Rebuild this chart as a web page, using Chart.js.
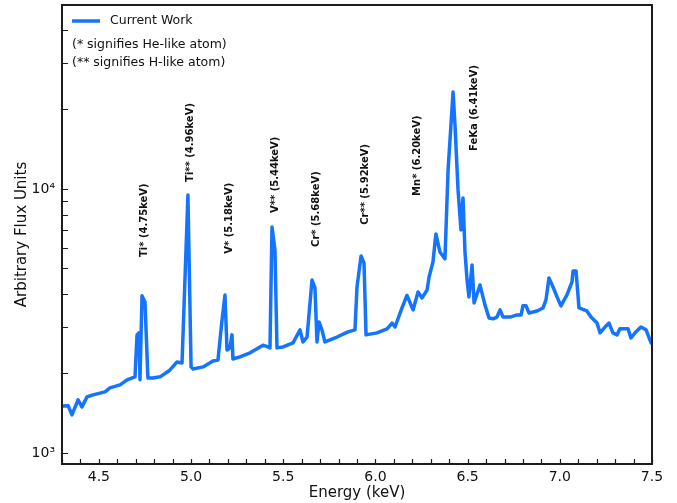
<!DOCTYPE html>
<html>
<head>
<meta charset="utf-8">
<script src="https://cdn.jsdelivr.net/npm/chart.js@4.4.0/dist/chart.umd.min.js"></script>
<style>
    html, body { margin: 0; padding: 0; background: #fff; }
</style>
</head>
<body>
<canvas id="fluxChart" width="677" height="503"></canvas>
<script>
// spectrum (keV, arbitrary flux)
const energy = [
    4.300, 4.333, 4.354, 4.387, 4.408, 4.436, 4.468, 4.533, 4.560, 4.615, 4.653, 4.696,
    4.707, 4.718, 4.723, 4.734, 4.750, 4.766, 4.794, 4.832, 4.886, 4.924, 4.951, 4.956,
    4.983, 5.000, 5.011, 5.065, 5.119, 5.146, 5.168, 5.184, 5.195, 5.211, 5.222, 5.227,
    5.265, 5.320, 5.374, 5.390, 5.417, 5.428, 5.439, 5.455, 5.466, 5.499, 5.553, 5.591,
    5.607, 5.629, 5.656, 5.672, 5.683, 5.694, 5.710, 5.726, 5.792, 5.851, 5.889, 5.900,
    5.922, 5.938, 5.949, 6.008, 6.063, 6.090, 6.106, 6.144, 6.171, 6.204, 6.231, 6.253,
    6.280, 6.291, 6.312, 6.328, 6.350, 6.377, 6.394, 6.421, 6.432, 6.448, 6.464, 6.475,
    6.486, 6.497, 6.507, 6.524, 6.535, 6.567, 6.594, 6.616, 6.638, 6.659, 6.676, 6.692,
    6.730, 6.768, 6.790, 6.800, 6.817, 6.833, 6.876, 6.909, 6.925, 6.941, 6.963, 6.985,
    7.006, 7.039, 7.066, 7.072, 7.088, 7.104, 7.147, 7.169, 7.202, 7.218, 7.245, 7.267,
    7.288, 7.310, 7.326, 7.370, 7.386, 7.408, 7.440, 7.468, 7.495
];
const flux = [
    1507, 1510, 1393, 1589, 1494, 1630, 1660, 1703, 1763, 1811, 1892, 1942,
    2800, 2850, 1892, 3937, 3733, 1924, 1924, 1942, 2062, 2212, 2192, 2192,
    9490, 2118, 2080, 2118, 2230, 2249, 3190, 3966, 2455, 2500, 2800, 2268,
    2310, 2394, 2521, 2560, 2521, 2500, 7180, 5875, 2500, 2521, 2612, 2925,
    2632, 2748, 4516, 4217, 2632, 3135, 2925, 2632, 2748, 2873, 2925, 4256,
    5574, 5243, 2800, 2850, 2951, 3105, 2999, 3541, 3950, 3481, 4072, 3866,
    4141, 4642, 5286, 6754, 5768, 5433, 11800, 23270, 17170, 9913, 6998, 9245,
    5728, 4516, 3900, 5155, 3700, 4326, 3638, 3246, 3222, 3271, 3481, 3271,
    3271, 3333, 3333, 3607, 3607, 3388, 3450, 3541, 3800, 4603, 4256, 3900,
    3607, 3966, 4448, 4889, 4889, 3541, 3450, 3271, 3105, 2850, 2999, 3105,
    2850, 2800, 2951, 2951, 2727, 2850, 2999, 2925, 2612
];

// line identifications, text anchored at (energy, flux) and read upward
const lineNames = ['Ti* (4.75keV)', 'Ti** (4.96keV)', 'V* (5.18keV)', 'V** (5.44keV)',
    'Cr* (5.68keV)', 'Cr** (5.92keV)', 'Mn* (6.20keV)', 'FeKa (6.41keV)'];
const lineEnergy = [4.745, 4.994, 5.206, 5.455, 5.678, 5.943, 6.225, 6.535];
const lineFlux = [5520, 10630, 5680, 8110, 6030, 7310, 9410, 13930];

const xMajorTicks = [4.5, 5.0, 5.5, 6.0, 6.5, 7.0, 7.5];
const yMajorTicks = [1000, 10000];
const yTickLabels = ['10\u00b3', '10\u2074'];
const notes = ['(* signifies He-like atom)', '(** signifies H-like atom)'];

const blue = '#1474ff';
const ink = '#1c1c1c';

const decorPlugin = {
    id: 'decor',
    afterDatasetsDraw(chart) {
        const ctx = chart.ctx;
        const xs = chart.scales.x, ys = chart.scales.y;
        ctx.save();
        ctx.fillStyle = '#111';
        ctx.font = 'bold 10px "DejaVu Sans"';
        ctx.textAlign = 'left';
        ctx.textBaseline = 'middle';
        lineNames.forEach((name, i) => {
            ctx.save();
            ctx.translate(xs.getPixelForValue(lineEnergy[i]), ys.getPixelForValue(lineFlux[i]));
            ctx.rotate(-Math.PI / 2);
            ctx.fillText(name, 0, 0);
            ctx.restore();
        });
        ctx.restore();
    },
    afterDraw(chart) {
        const ctx = chart.ctx;
        const a = chart.chartArea;
        const xs = chart.scales.x, ys = chart.scales.y;
        ctx.save();

        // inward ticks
        ctx.strokeStyle = ink;
        ctx.lineWidth = 1.2;
        ctx.beginPath();
        xs.ticks.forEach(t => {
            const px = Math.round(xs.getPixelForValue(t.value)) + 0.5;
            ctx.moveTo(px, a.bottom);
            ctx.lineTo(px, a.bottom - 5);
        });
        ys.ticks.forEach(t => {
            const py = Math.round(ys.getPixelForValue(t.value)) + 0.5;
            ctx.moveTo(a.left, py);
            ctx.lineTo(a.left + 6, py);
        });
        ctx.stroke();

        // frame
        ctx.lineWidth = 2;
        ctx.strokeRect(a.left, a.top, a.right - a.left, a.bottom - a.top);

        // legend
        const ds = chart.data.datasets[0];
        ctx.strokeStyle = ds.borderColor;
        ctx.lineWidth = 3.5;
        ctx.beginPath();
        ctx.moveTo(a.left + 10, a.top + 16);
        ctx.lineTo(a.left + 38, a.top + 16);
        ctx.stroke();
        ctx.fillStyle = '#111';
        ctx.font = '12.5px "DejaVu Sans"';
        ctx.textAlign = 'left';
        ctx.textBaseline = 'middle';
        ctx.fillText(ds.label, a.left + 48, a.top + 16);
        notes.forEach((n, i) => ctx.fillText(n, a.left + 10, a.top + 40 + i * 18));
        ctx.restore();
    }
};

const ctx = document.getElementById('fluxChart').getContext('2d');
const fluxChart = new Chart(ctx, {
    type: 'line',
    data: {
        datasets: [{
            label: 'Current Work',
            data: energy.map((e, i) => ({ x: e, y: flux[i] })),
            borderColor: blue,
            borderWidth: 3.5,
            borderJoinStyle: 'round',
            borderCapStyle: 'round',
            pointRadius: 0,
            tension: 0,
            fill: false
        }]
    },
    options: {
        responsive: false,
        animation: false,
        devicePixelRatio: 1,
        layout: { padding: { top: 5, right: 25, left: 0, bottom: 0 } },
        plugins: {
            legend: { display: false },
            tooltip: { enabled: false }
        },
        scales: {
            x: {
                type: 'linear',
                min: 4.3,
                max: 7.5,
                afterBuildTicks(scale) {
                    const ticks = [];
                    for (let k = 43; k <= 75; k++) ticks.push({ value: k / 10 });
                    scale.ticks = ticks;
                },
                afterFit(scale) {
                    scale.height = 39;
                    scale.paddingLeft = 0;
                    scale.paddingRight = 0;
                },
                grid: { display: false, drawTicks: false },
                border: { display: false },
                ticks: {
                    autoSkip: false,
                    maxRotation: 0,
                    padding: 5,
                    color: '#111',
                    font: { family: 'DejaVu Sans', size: 14 },
                    callback(value) {
                        const hit = xMajorTicks.find(m => Math.abs(m - value) < 1e-6);
                        return hit === undefined ? '' : hit.toFixed(1);
                    }
                },
                title: {
                    display: true,
                    text: 'Energy (keV)',
                    color: '#111',
                    font: { family: 'DejaVu Sans', size: 15 },
                    padding: { top: 0, bottom: 1 }
                }
            },
            y: {
                type: 'logarithmic',
                min: 908,
                max: 49750,
                afterBuildTicks(scale) {
                    const ticks = [];
                    for (let v = 1000; v <= 9000; v += 1000) ticks.push({ value: v });
                    for (let v = 10000; v <= 40000; v += 10000) ticks.push({ value: v });
                    scale.ticks = ticks;
                },
                afterFit(scale) {
                    scale.width = 62;
                    scale.paddingTop = 0;
                    scale.paddingBottom = 0;
                },
                grid: { display: false, drawTicks: false },
                border: { display: false },
                ticks: {
                    autoSkip: false,
                    padding: 7,
                    color: '#111',
                    font: { family: 'DejaVu Sans', size: 14 },
                    callback(value) {
                        const i = yMajorTicks.indexOf(value);
                        return i < 0 ? '' : yTickLabels[i];
                    }
                },
                title: {
                    display: true,
                    text: 'Arbitrary Flux Units',
                    color: '#111',
                    font: { family: 'DejaVu Sans', size: 15 },
                    padding: { top: 13, bottom: 0 }
                }
            }
        }
    },
    plugins: [decorPlugin]
});
</script>
</body>
</html>
